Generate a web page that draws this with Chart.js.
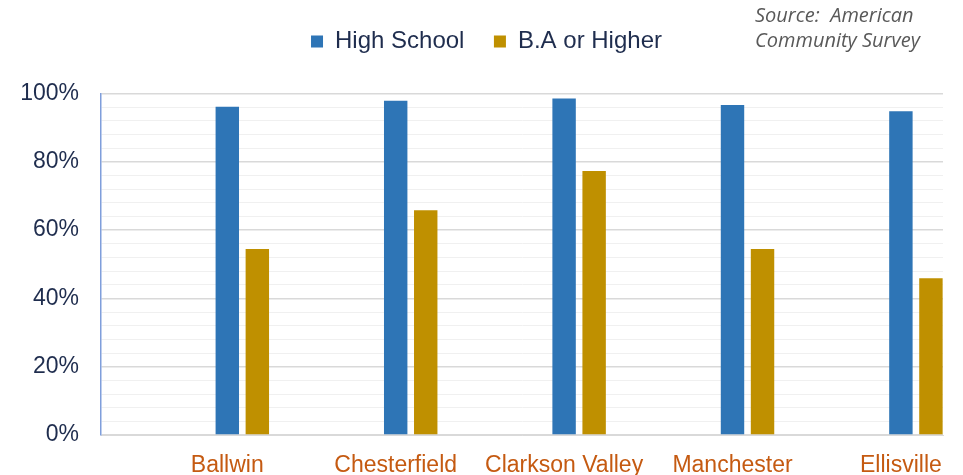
<!DOCTYPE html>
<html>
<head>
<meta charset="utf-8">
<script src="https://cdn.jsdelivr.net/npm/chart.js@4"></script>
<style>
  html, body { margin: 0; padding: 0; background: #fff; }
  #wrap { position: relative; width: 963px; height: 475px; }
  #source {
    position: absolute; left: 755px; top: 2px;
    font: italic 20px "Open Sans", sans-serif; line-height: 25px;
    color: #595959; white-space: nowrap;
  }
</style>
</head>
<body>
<div id="wrap">
  <canvas id="chart" width="963" height="475"></canvas>
  <div id="source">Source:&nbsp; American<br>Community Survey</div>
</div>
<script>
/* Educational attainment by city */
const categories = ["Ballwin", "Chesterfield", "Clarkson Valley", "Manchester", "Ellisville"];
const highSchool = [96.1, 97.9, 98.5, 96.6, 94.8];
const baOrHigher = [54.5, 65.8, 77.3, 54.5, 45.9];
const majorStep = 20;
const minorStep = 4;

const navy = "#1f2d4e";
const toPoints = (arr) => arr.map((v, i) => ({ x: i, y: v }));

// extra room under the legend and nudge it right, like the original slide
const legendSpacing = {
  id: "legendSpacing",
  beforeInit(chart) {
    const legend = chart.legend;
    if (!legend) return;
    const fit = legend.fit;
    legend.fit = function () {
      fit.call(this);
      this.height += 30;
    };
  },
  afterLayout(chart) {
    if (!chart.legend) return;
    chart.legend.left += 15;
    chart.legend.right += 15;
  },
};

const chart = new Chart(document.getElementById("chart"), {
  type: "bar",
  data: {
    datasets: [
      // empty slot so the blue bar sits on the label, like the original
      { label: "", data: toPoints(categories.map(() => null)), backgroundColor: "rgba(0,0,0,0)" },
      { label: "High School", data: toPoints(highSchool), backgroundColor: "#2e75b6" },
      { label: "B.A or Higher", data: toPoints(baOrHigher), backgroundColor: "#bf9000" },
    ],
  },
  plugins: [legendSpacing],
  options: {
    responsive: false,
    animation: false,
    categoryPercentage: 0.535,
    barPercentage: 0.78,
    layout: { padding: { top: 0, right: 20, left: 0, bottom: 0 } },
    plugins: {
      tooltip: { enabled: false },
      legend: {
        position: "top",
        labels: {
          filter: (item) => item.text !== "",
          boxWidth: 12,
          boxHeight: 12,
          padding: 29.5,
          color: navy,
          font: { family: "Liberation Sans", size: 24 },
        },
      },
    },
    scales: {
      x: {
        type: "linear",
        min: -0.75,
        max: 4.25,
        offset: false,
        afterBuildTicks: (scale) => {
          scale.ticks = categories.map((c, i) => ({ value: i }));
        },
        afterFit: (scale) => { scale.height = 40; },
        grid: { display: false, offset: false },
        border: { display: true, color: "#d9d9d9", width: 1 },
        ticks: {
          padding: 9,
          autoSkip: false,
          maxRotation: 0,
          color: "#c55a11",
          font: { family: "Liberation Sans", size: 23 },
          callback: (v) => categories[v] ?? "",
        },
      },
      y: {
        min: 0,
        max: 100,
        afterFit: (scale) => { scale.width = 101; },
        border: { display: true, color: "#7f9edb", width: 1.5 },
        grid: {
          drawTicks: false,
          color: (ctx) => (ctx.tick.value % majorStep === 0 ? "#d9d9d9" : "#f0f0f0"),
          lineWidth: (ctx) => (ctx.tick.value % majorStep === 0 ? 1.5 : 1),
        },
        ticks: {
          stepSize: minorStep,
          padding: 22,
          autoSkip: false,
          color: navy,
          font: { family: "Liberation Sans", size: 23 },
          callback: (v) => (v % majorStep === 0 ? v + "%" : ""),
        },
      },
    },
  },
});
</script>
</body>
</html>
